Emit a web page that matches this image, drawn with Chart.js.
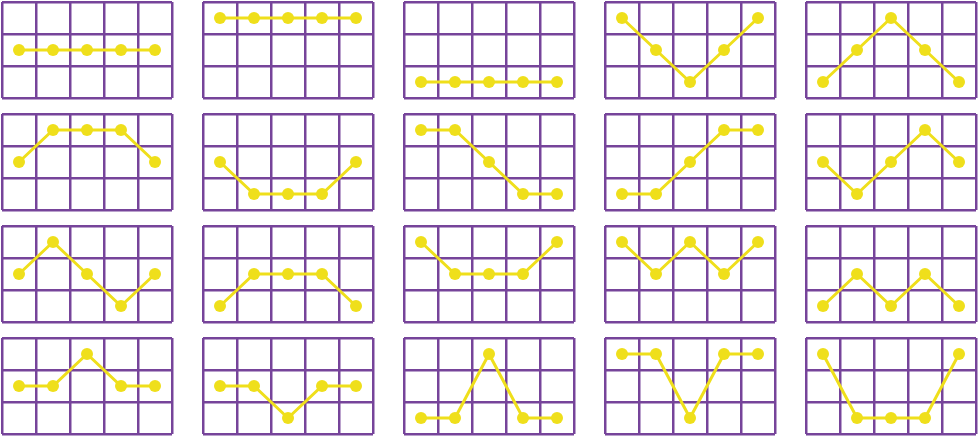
<!DOCTYPE html>
<html>
<head>
<meta charset="utf-8">
<script src="https://cdn.jsdelivr.net/npm/chart.js@4"></script>
<style>
  body { margin: 0; background: #fff; }
  #wrap { position: relative; width: 980px; height: 436px; }
  .cell { position: absolute; width: 178px; height: 104px; }
</style>
</head>
<body>
<div id="wrap"></div>
<script>
// five positions along each little chart, three levels (0 bottom, 1 middle, 2 top)
const positions = ['1', '2', '3', '4', '5'];
const levelTicks = [-0.5, 0.5, 1.5, 2.5];

// one row of the picture per array, left to right
const row1 = [
    [1, 1, 1, 1, 1],
    [2, 2, 2, 2, 2],
    [0, 0, 0, 0, 0],
    [2, 1, 0, 1, 2],
    [0, 1, 2, 1, 0]
];
const row2 = [
    [1, 2, 2, 2, 1],
    [1, 0, 0, 0, 1],
    [2, 2, 1, 0, 0],
    [0, 0, 1, 2, 2],
    [1, 0, 1, 2, 1]
];
const row3 = [
    [1, 2, 1, 0, 1],
    [0, 1, 1, 1, 0],
    [2, 1, 1, 1, 2],
    [2, 1, 2, 1, 2],
    [0, 1, 0, 1, 0]
];
const row4 = [
    [1, 1, 2, 1, 1],
    [1, 1, 0, 1, 1],
    [0, 0, 2, 0, 0],
    [2, 2, 0, 2, 2],
    [2, 0, 0, 0, 2]
];

const rows = [row1, row2, row3, row4];
const gridColor = '#76449a';
const lineColor = '#efdf1b';

const wrap = document.getElementById('wrap');

rows.forEach((row, r) => {
    row.forEach((values, c) => {
        const box = document.createElement('div');
        box.className = 'cell';
        box.style.left = (2 + c * 201 - 4) + 'px';
        box.style.top = (2 + r * 112 - 4) + 'px';
        const canvas = document.createElement('canvas');
        box.appendChild(canvas);
        wrap.appendChild(box);

        new Chart(canvas.getContext('2d'), {
            type: 'line',
            data: {
                labels: positions,
                datasets: [{
                    data: values,
                    borderColor: lineColor,
                    backgroundColor: lineColor,
                    borderWidth: 3,
                    pointRadius: 6,
                    pointBorderWidth: 0,
                    fill: false,
                    tension: 0,
                    clip: false
                }]
            },
            options: {
                responsive: true,
                maintainAspectRatio: false,
                animation: false,
                layout: { padding: 4, autoPadding: false },
                scales: {
                    x: {
                        offset: true,
                        ticks: { display: false, padding: 0 },
                        grid: {
                            offset: true,
                            color: gridColor,
                            lineWidth: 2.5,
                            drawTicks: false,
                            tickLength: 0
                        },
                        border: { display: false }
                    },
                    y: {
                        min: -0.5,
                        max: 2.5,
                        afterBuildTicks: axis => {
                            axis.ticks = levelTicks.map(v => ({ value: v }));
                        },
                        ticks: { display: false, padding: 0 },
                        grid: {
                            color: gridColor,
                            lineWidth: 2.5,
                            drawTicks: false,
                            tickLength: 0
                        },
                        border: { display: false }
                    }
                },
                plugins: {
                    legend: { display: false },
                    tooltip: { enabled: false }
                }
            }
        });
    });
});
</script>
</body>
</html>
